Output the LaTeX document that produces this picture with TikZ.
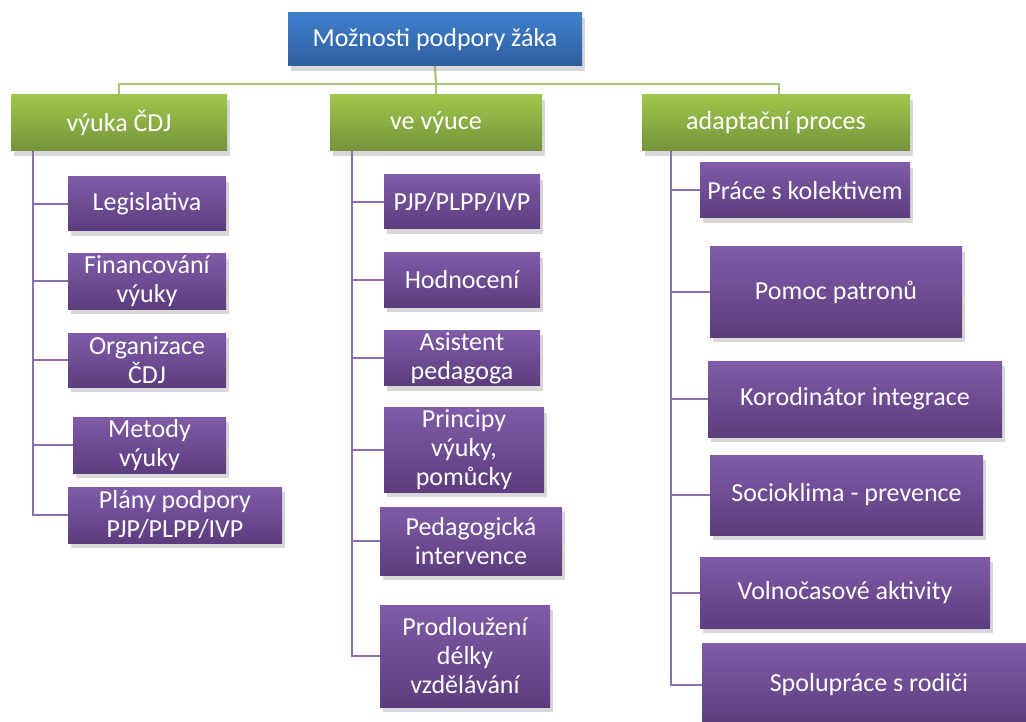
\documentclass[tikz,border=0pt]{standalone}
\usepackage{fontspec}
\setmainfont{Carlito}
\usetikzlibrary{shadows,backgrounds}
\definecolor{bluetop}{HTML}{3F80CD}
\definecolor{bluebot}{HTML}{2D5E9E}
\definecolor{greentop}{HTML}{9FC64B}
\definecolor{greenbot}{HTML}{76933C}
\definecolor{purptop}{HTML}{805BA7}
\definecolor{purpbot}{HTML}{5C3C7E}
\definecolor{greenline}{HTML}{A7C477}
\definecolor{purpline}{HTML}{8C6DB0}
\tikzset{
  boxbase/.style={rectangle, inner sep=2pt, align=center, text=white,
    font=\fontsize{26}{29}\selectfont,
    drop shadow={opacity=0.3, shadow xshift=3pt, shadow yshift=-5pt}},
  topbox/.style={boxbase, top color=bluetop, bottom color=bluebot},
  gbox/.style={boxbase, top color=greentop, bottom color=greenbot},
  pbox/.style={boxbase, top color=purptop, bottom color=purpbot},
  gline/.style={draw=greenline, line width=2.2pt},
  pline/.style={draw=purpline, line width=2pt},
}
\begin{document}
\begin{tikzpicture}[x=1pt,y=-1pt]
\useasboundingbox (0,0) rectangle (1026,722);
\clip (0,0) rectangle (1026,722);
% top
\node[topbox, minimum width=294pt, minimum height=53pt] (top) at (435,39.5) {Možnosti podpory žáka};
% level 1
\node[gbox, minimum width=216pt, minimum height=56pt] (g1) at (119,123) {výuka ČDJ};
\node[gbox, minimum width=212pt, minimum height=56pt] (g2) at (436,123) {ve výuce};
\node[gbox, minimum width=268pt, minimum height=56pt] (g3) at (776,123) {adaptační proces};
% left column
\node[pbox, minimum width=158pt, minimum height=54pt] (l1) at (147,204) {Legislativa};
\node[pbox, minimum width=158pt, minimum height=53pt] (l2) at (147,281.5) {Financování\\výuky};
\node[pbox, minimum width=158pt, minimum height=54pt] (l3) at (147,360) {Organizace\\ČDJ};
\node[pbox, minimum width=153pt, minimum height=56pt] (l4) at (149.5,445) {Metody\\výuky};
\node[pbox, minimum width=214pt, minimum height=56pt] (l5) at (175,515) {Plány podpory\\PJP/PLPP/IVP};
% middle column
\node[pbox, minimum width=156pt, minimum height=54pt] (m1) at (462,202) {PJP/PLPP/IVP};
\node[pbox, minimum width=156pt, minimum height=54pt] (m2) at (462,280) {Hodnocení};
\node[pbox, minimum width=156pt, minimum height=54pt] (m3) at (462,358) {Asistent\\pedagoga};
\node[pbox, minimum width=160pt, minimum height=82pt] (m4) at (464,450) {Principy\\výuky,\\pomůcky};
\node[pbox, minimum width=182pt, minimum height=68pt] (m5) at (471,541) {Pedagogická\\intervence};
\node[pbox, minimum width=170pt, minimum height=102pt] (m6) at (465,656) {Prodloužení\\délky\\vzdělávání};
% right column
\node[pbox, minimum width=210pt, minimum height=55pt] (r1) at (805,190.5) {Práce s kolektivem};
\node[pbox, minimum width=252pt, minimum height=90pt] (r2) at (836,292) {Pomoc patronů};
\node[pbox, minimum width=294pt, minimum height=76pt] (r3) at (855,399) {Korodinátor integrace};
\node[pbox, minimum width=273pt, minimum height=80pt] (r4) at (846.5,495) {Socioklima - prevence};
\node[pbox, minimum width=290pt, minimum height=71pt] (r5) at (845,592.5) {Volnočasové aktivity};
\node[pbox, minimum width=334pt, minimum height=84pt] (r6) at (869,685) {Spolupráce s rodiči};
% connectors
\coordinate (hb) at (436,84);
\coordinate (v1) at (33,151);
\coordinate (v2) at (352,151);
\coordinate (v3) at (671,151);
\begin{scope}[on background layer]
  \fill[white] (0,0) rectangle (1026,722);
  \draw[gline] (top.south) -- (hb);
  \draw[gline] (hb) -| (g1.north);
  \draw[gline] (hb) -| ([xshift=3pt]g3.north);
  \draw[gline] (hb) -- (g2.north);
  \foreach \c in {l1,l2,l3,l4,l5} { \draw[pline] (v1) |- (\c.west); }
  \foreach \c in {m1,m2,m3,m4,m5,m6} { \draw[pline] (v2) |- (\c.west); }
  \foreach \c in {r1,r2,r3,r4,r5,r6} { \draw[pline] (v3) |- (\c.west); }
\end{scope}
\end{tikzpicture}
\end{document}
